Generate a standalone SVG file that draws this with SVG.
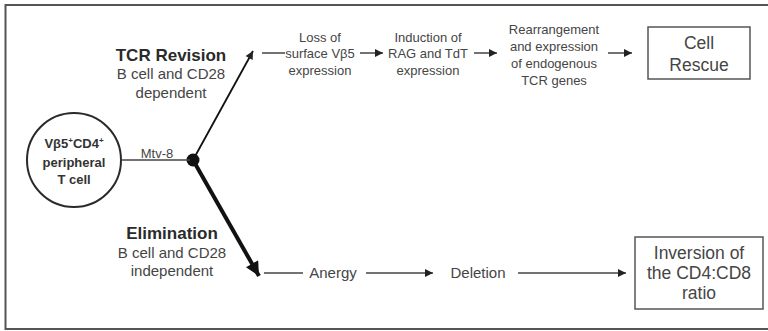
<svg xmlns="http://www.w3.org/2000/svg" width="768" height="331" viewBox="0 0 768 331">
  <style>
    text { font-family: "Liberation Sans", Arial, sans-serif; fill: #454545; text-anchor: middle; }
    .sm { font-size: 13px; }
    .md { font-size: 15px; }
    .hd { font-size: 17px; font-weight: bold; fill: #2a2a2a; }
    .bx { font-size: 17.5px; }
    .cell { font-size: 13px; font-weight: bold; fill: #333; }
    .box { fill: #fff; stroke: #555; stroke-width: 1.5; }
    .ln { stroke: #444; stroke-width: 1.5; fill: none; }
  </style>
  <defs>
    <marker id="ah" viewBox="0 0 10 10" refX="10" refY="5" markerWidth="9" markerHeight="8" markerUnits="userSpaceOnUse" orient="auto">
      <path d="M0,0 L10,5 L0,10 z" fill="#222"/>
    </marker>
    <marker id="ahBig" viewBox="0 0 10 10" refX="10" refY="5" markerWidth="16" markerHeight="14" markerUnits="userSpaceOnUse" orient="auto">
      <path d="M0,0 L10,5 L0,10 z" fill="#111"/>
    </marker>
  </defs>

  <rect width="768" height="331" fill="#fff"/>
  <!-- outer frame -->
  <path d="M770,5 H5.5 V329 H770" fill="none" stroke="#555" stroke-width="2"/>

  <!-- starting cell -->
  <g id="tcell">
    <circle cx="74" cy="160" r="47" fill="#fff" stroke="#2a2a2a" stroke-width="2"/>
    <text class="cell" x="74" y="148">Vβ5<tspan font-size="8" dy="-5">+</tspan><tspan dy="5">CD4</tspan><tspan font-size="8" dy="-5">+</tspan></text>
    <text class="cell" x="74" y="167">peripheral</text>
    <text class="cell" x="74" y="184">T cell</text>
  </g>

  <g id="branch-point">
    <circle cx="193" cy="160" r="6.5" fill="#111"/>
  </g>

  <g id="tcr-revision">
    <text class="hd" x="171" y="61">TCR Revision</text>
    <text class="md" x="171" y="79">B cell and CD28</text>
    <text class="md" x="171" y="98">dependent</text>
  </g>

  <g id="elimination">
    <text class="hd" x="172" y="239">Elimination</text>
    <text class="md" x="172" y="258">B cell and CD28</text>
    <text class="md" x="172" y="276">independent</text>
  </g>

  <g id="loss">
    <text class="sm" x="320" y="42">Loss of</text>
    <text class="sm" x="320" y="58">surface Vβ5</text>
    <text class="sm" x="320" y="75">expression</text>
  </g>

  <g id="induction">
    <text class="sm" x="428" y="42">Induction of</text>
    <text class="sm" x="428" y="58">RAG and TdT</text>
    <text class="sm" x="428" y="75">expression</text>
  </g>

  <g id="rearrangement">
    <text class="sm" x="554" y="34">Rearrangement</text>
    <text class="sm" x="554" y="51">and expression</text>
    <text class="sm" x="554" y="68">of endogenous</text>
    <text class="sm" x="554" y="85">TCR genes</text>
  </g>

  <g id="cell-rescue">
    <rect class="box" x="648" y="27" width="102" height="52"/>
    <text class="bx" x="699" y="49">Cell</text>
    <text class="bx" x="699" y="71">Rescue</text>
  </g>

  <g id="anergy">
    <text class="md" x="333" y="278">Anergy</text>
  </g>

  <g id="deletion">
    <text class="md" x="478" y="278">Deletion</text>
  </g>

  <g id="inversion">
    <rect class="box" x="635" y="237" width="128" height="72"/>
    <text class="bx" x="699" y="259">Inversion of</text>
    <text class="bx" x="699" y="279">the CD4:CD8</text>
    <text class="bx" x="699" y="299">ratio</text>
  </g>

  <g id="connectors">
    <line class="ln" x1="121" y1="160" x2="190" y2="160" stroke="#555"/>
    <text class="sm" x="157" y="158">Mtv-8</text>
    <line x1="193" y1="160" x2="253" y2="51" stroke="#111" stroke-width="1.8" marker-end="url(#ah)"/>
    <line x1="193" y1="160" x2="259" y2="276" stroke="#111" stroke-width="4" marker-end="url(#ahBig)"/>
    <line class="ln" x1="262" y1="53" x2="285" y2="53"/>
    <line class="ln" x1="360" y1="53" x2="383" y2="53" marker-end="url(#ah)"/>
    <line class="ln" x1="474" y1="53" x2="497" y2="53" marker-end="url(#ah)"/>
    <line class="ln" x1="608" y1="53" x2="632" y2="53" marker-end="url(#ah)"/>
    <line class="ln" x1="264" y1="273" x2="303" y2="273"/>
    <line class="ln" x1="366" y1="273" x2="433" y2="273" marker-end="url(#ah)"/>
    <line class="ln" x1="518" y1="273" x2="626" y2="273" marker-end="url(#ah)"/>
  </g>
</svg>
